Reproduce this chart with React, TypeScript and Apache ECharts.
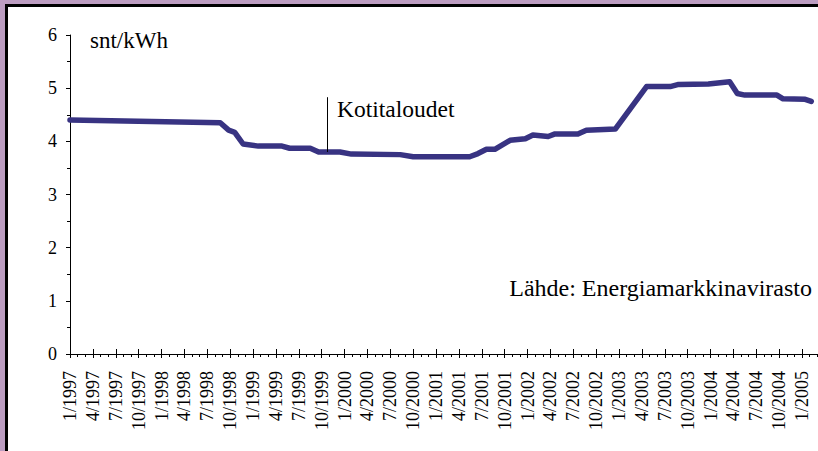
import React, { useEffect, useRef } from "react";
import * as echarts from "echarts";

// Months since 1/1997 (x) and price in snt/kWh (y)
const months = [0, 19.7, 20.8, 21.6, 22.7, 24.7, 27.8, 28.8, 31.5, 32.6, 35.4, 36.9, 43.3, 45.0, 52.4, 53.5, 54.6, 55.7, 57.7, 59.7, 60.7, 62.7, 63.6, 66.6, 67.7, 71.5, 75.6, 78.7, 79.8, 83.7, 86.5, 87.5, 88.5, 92.7, 93.5, 96.4, 97.2];
const prices = [4.40, 4.35, 4.21, 4.17, 3.95, 3.91, 3.91, 3.87, 3.87, 3.80, 3.80, 3.76, 3.75, 3.71, 3.71, 3.77, 3.85, 3.85, 4.02, 4.05, 4.12, 4.09, 4.14, 4.14, 4.21, 4.23, 5.03, 5.03, 5.07, 5.08, 5.12, 4.90, 4.87, 4.87, 4.80, 4.79, 4.75];

const tickLabels = [
  "1/1997", "4/1997", "7/1997", "10/1997",
  "1/1998", "4/1998", "7/1998", "10/1998",
  "1/1999", "4/1999", "7/1999", "10/1999",
  "1/2000", "4/2000", "7/2000", "10/2000",
  "1/2001", "4/2001", "7/2001", "10/2001",
  "1/2002", "4/2002", "7/2002", "10/2002",
  "1/2003", "4/2003", "7/2003", "10/2003",
  "1/2004", "4/2004", "7/2004", "10/2004",
  "1/2005",
];

const annotationX = 33.7;
const annotationY = [3.8, 4.83];

const FONT = "Liberation Serif";

export default function App() {
  const ref = useRef<HTMLDivElement>(null);
  useEffect(() => {
    if (!ref.current) return;
    const chart = echarts.init(ref.current, null, { renderer: "svg" });
    const xBase = {
      type: "value" as const,
      min: 0,
      max: 99,
      interval: 3,
      position: "bottom" as const,
      splitLine: { show: false },
    };
    chart.setOption({
      animation: false,
      textStyle: { fontFamily: FONT },
      grid: { left: 70, top: 35, right: -7, bottom: 97, containLabel: false, outerBoundsMode: "none" },
      xAxis: [
        {
          ...xBase,
          axisLine: { show: true, lineStyle: { color: "#000", width: 1 } },
          axisTick: { show: true, length: 4, lineStyle: { color: "#000" } },
          minorTick: { show: true, splitNumber: 3, length: 3, lineStyle: { color: "#000" } },
          axisLabel: {
            rotate: 90,
            margin: 17,
            color: "#000",
            fontFamily: FONT,
            fontSize: 18,
            hideOverlap: false,
            formatter: (v: number) => {
              const i = Math.round(v / 3);
              return Math.abs(v - i * 3) < 1e-6 ? tickLabels[i] ?? "" : "";
            },
          },
        },
        {
          ...xBase,
          axisLine: { show: false },
          axisTick: { show: true, inside: true, length: 5, lineStyle: { color: "#000" } },
          axisLabel: { show: false },
        },
      ],
      yAxis: {
        type: "value",
        min: 0,
        max: 6,
        interval: 1,
        splitLine: { show: false },
        axisLine: { show: true, lineStyle: { color: "#000", width: 1 } },
        axisTick: { show: true, length: 4, lineStyle: { color: "#000" } },
        minorTick: { show: true, splitNumber: 2, length: 3, lineStyle: { color: "#000" } },
        axisLabel: { color: "#000", fontFamily: FONT, fontSize: 18, margin: 13 },
      },
      series: [
        {
          type: "line",
          data: months.map((m, i) => [m, prices[i]]),
          showSymbol: false,
          symbol: "none",
          lineStyle: { color: "#383382", width: 5.5, cap: "round", join: "round" },
          z: 3,
          markLine: {
            silent: true,
            symbol: "none",
            label: { show: false },
            lineStyle: { color: "#000", width: 1, type: "solid" },
            data: [[{ coord: [annotationX, annotationY[0]] }, { coord: [annotationX, annotationY[1]] }]],
          },
        },
      ],
      graphic: [
        { type: "text", x: 90, y: 29, style: { text: "snt/kWh", fill: "#000", fontFamily: FONT, fontSize: 23, align: "left", verticalAlign: "top" } },
        { type: "text", x: 337, y: 97, style: { text: "Kotitaloudet", fill: "#000", fontFamily: FONT, fontSize: 23.5, align: "left", verticalAlign: "top" } },
        { type: "text", x: 812, y: 276, style: { text: "Lähde: Energiamarkkinavirasto", fill: "#000", fontFamily: FONT, fontSize: 24, align: "right", verticalAlign: "top" } },
      ],
    });
    return () => chart.dispose();
  }, []);
  return (
    <div style={{ position: "fixed", left: 0, top: 0, width: 818, height: 451, overflow: "hidden", background: "#BC9DC1" }}>
      <div style={{ position: "absolute", left: 5, top: 4, width: 830, height: 460, background: "#fff", borderLeft: "3px solid #000", borderTop: "3px solid #000" }} />
      <div ref={ref} style={{ position: "absolute", left: 0, top: 0, width: 818, height: 451 }} />
    </div>
  );
}
